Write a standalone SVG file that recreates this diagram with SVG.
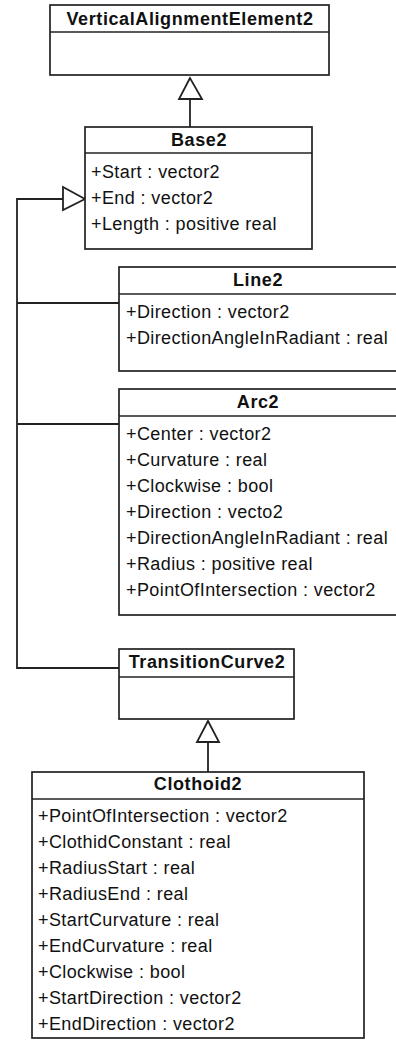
<svg xmlns="http://www.w3.org/2000/svg" width="396" height="1048" viewBox="0 0 396 1048">
<style>
.box{fill:#fff;stroke:#222;stroke-width:1.7}
.div{stroke:#222;stroke-width:1.7}
.t{font-family:"Liberation Sans",Arial,sans-serif;font-size:18px;font-weight:bold;fill:#111;text-anchor:middle;letter-spacing:0.6px}
.a{font-family:"Liberation Sans",Arial,sans-serif;font-size:18px;fill:#111;letter-spacing:0.4px}
.c{fill:none;stroke:#222;stroke-width:1.8}
.tri{fill:#fff;stroke:#222;stroke-width:1.8}
</style>
<rect width="396" height="1048" fill="#fff"/>
<g id="connectors">
<line class="c" x1="190" y1="99" x2="190" y2="127"/>
<polygon class="tri" points="190,78 179,99 202,99"/>
<polyline class="c" points="63,199 17,199 17,668 119,668"/>
<line class="c" x1="17" y1="303" x2="119" y2="303"/>
<line class="c" x1="17" y1="424" x2="119" y2="424"/>
<polygon class="tri" points="85,199 63,187 63,210"/>
<line class="c" x1="208" y1="742" x2="208" y2="772"/>
<polygon class="tri" points="208,721 197,742 219,742"/>
</g>
<g id="VerticalAlignmentElement2">
<rect class="box" x="50" y="5" width="279" height="70"/>
<line class="div" x1="50" y1="32" x2="329" y2="32"/>
<text class="t" x="190" y="25">VerticalAlignmentElement2</text>
</g>
<g id="Base2">
<rect class="box" x="85" y="127" width="227" height="122"/>
<line class="div" x1="85" y1="153" x2="312" y2="153"/>
<text class="t" x="199" y="146">Base2</text>
<text class="a" x="91" y="178">+Start : vector2</text>
<text class="a" x="91" y="204">+End : vector2</text>
<text class="a" x="91" y="230">+Length : positive real</text>
</g>
<g id="Line2">
<rect class="box" x="119" y="267" width="279" height="104"/>
<line class="div" x1="119" y1="294" x2="398" y2="294"/>
<text class="t" x="258" y="286">Line2</text>
<text class="a" x="126" y="318">+Direction : vector2</text>
<text class="a" x="126" y="344">+DirectionAngleInRadiant : real</text>
</g>
<g id="Arc2">
<rect class="box" x="119" y="389" width="279" height="226"/>
<line class="div" x1="119" y1="416" x2="398" y2="416"/>
<text class="t" x="258" y="408">Arc2</text>
<text class="a" x="126" y="440">+Center : vector2</text>
<text class="a" x="126" y="466">+Curvature : real</text>
<text class="a" x="126" y="492">+Clockwise : bool</text>
<text class="a" x="126" y="518">+Direction : vecto2</text>
<text class="a" x="126" y="544">+DirectionAngleInRadiant : real</text>
<text class="a" x="126" y="570">+Radius : positive real</text>
<text class="a" x="126" y="596">+PointOfIntersection : vector2</text>
</g>
<g id="TransitionCurve2">
<rect class="box" x="119" y="649" width="175" height="70"/>
<line class="div" x1="119" y1="677" x2="294" y2="677"/>
<text class="t" x="207" y="668">TransitionCurve2</text>
</g>
<g id="Clothoid2">
<rect class="box" x="32" y="772" width="332" height="266"/>
<line class="div" x1="32" y1="799" x2="364" y2="799"/>
<text class="t" x="198" y="790">Clothoid2</text>
<text class="a" x="38" y="822">+PointOfIntersection : vector2</text>
<text class="a" x="38" y="848">+ClothidConstant : real</text>
<text class="a" x="38" y="874">+RadiusStart : real</text>
<text class="a" x="38" y="900">+RadiusEnd : real</text>
<text class="a" x="38" y="926">+StartCurvature : real</text>
<text class="a" x="38" y="952">+EndCurvature : real</text>
<text class="a" x="38" y="978">+Clockwise : bool</text>
<text class="a" x="38" y="1004">+StartDirection : vector2</text>
<text class="a" x="38" y="1030">+EndDirection : vector2</text>
</g>
</svg>
